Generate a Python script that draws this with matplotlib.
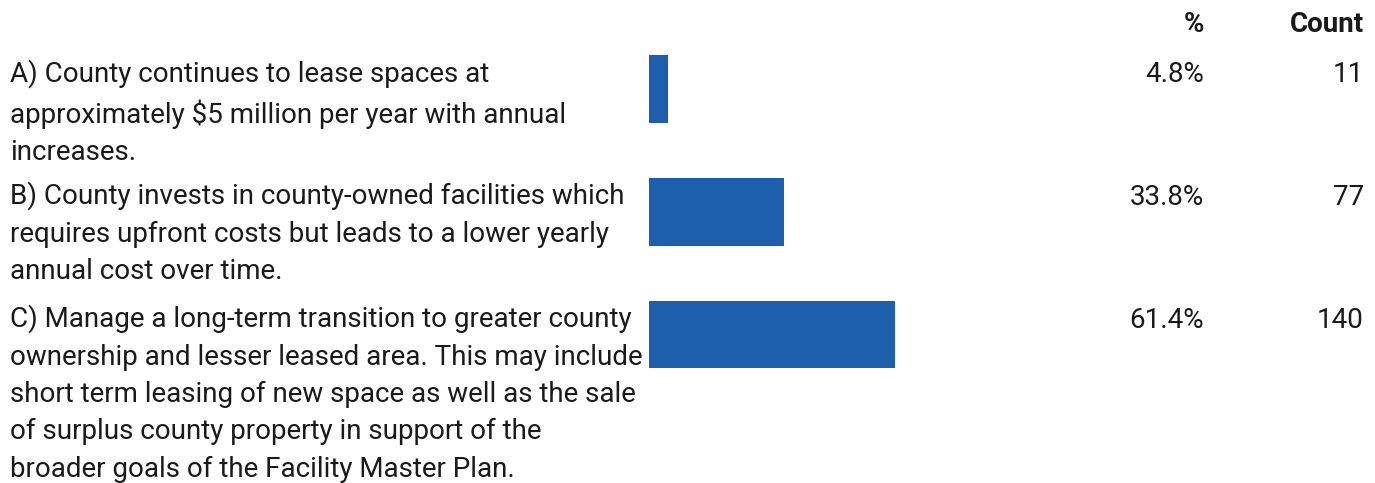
import matplotlib.pyplot as plt
import matplotlib.transforms as mtransforms

labels = [
    "A) County continues to lease spaces at\napproximately $5 million per year with annual\nincreases.",
    "B) County invests in county-owned facilities which\nrequires upfront costs but leads to a lower yearly\nannual cost over time.",
    "C) Manage a long-term transition to greater county\nownership and lesser leased area. This may include\nshort term leasing of new space as well as the sale\nof surplus county property in support of the\nbroader goals of the Facility Master Plan.",
]
pct = [4.8, 33.8, 61.4]
counts = [11, 77, 140]

W, H = 1375, 483
plt.rcParams['font.family'] = ['Roboto', 'DejaVu Sans']
fig = plt.figure(figsize=(W / 100, H / 100), dpi=100)

# bar axes: 100% spans 400 px starting at x=649
ax = fig.add_axes([649 / W, 1 - 396 / H, 400 / W, 368.5 / H])
rows = list(range(len(pct)))
bar_h = 0.55
ax.barh(rows, pct, height=bar_h, color='#1d5fac', left=0)
ax.set_xlim(0, 100)
ax.set_ylim(2.5, -0.5)
ax.axis('off')

tr = mtransforms.blended_transform_factory(fig.transFigure, ax.transData)
txt_color = '#1a1a1a'
fs = 20
for i in rows:
    y = i - bar_h / 2 + 0.03
    ax.text(10 / W, y, labels[i], transform=tr, ha='left', va='top',
            fontsize=fs, color=txt_color, linespacing=1.49)
    ax.text(1204 / W, y + 0.02, f"{pct[i]}%", transform=tr, ha='right', va='top',
            fontsize=fs, color=txt_color)
    ax.text(1364 / W, y + 0.02, f"{counts[i]}", transform=tr, ha='right', va='top',
            fontsize=fs, color=txt_color)

fig.text(1204 / W, 1 - 25 / H, "%", ha='right', va='center',
         fontsize=fs, fontweight='bold', color=txt_color)
fig.text(1364 / W, 1 - 25 / H, "Count", ha='right', va='center',
         fontsize=fs, fontweight='bold', color=txt_color)

fig.savefig('out.png', dpi=100)
